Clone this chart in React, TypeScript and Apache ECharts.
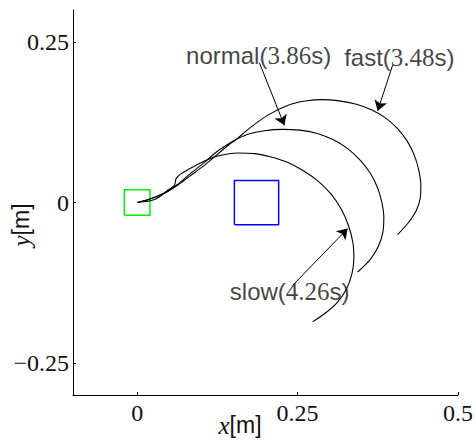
import React, { useEffect, useRef } from "react";
import * as echarts from "echarts";

const xTicks = [0, 0.25, 0.5];
const yTicks = [-0.25, 0, 0.25];

const fastPath: number[][] = [
  [0, 0], [0.0192, 0.005], [0.0425, 0.0143], [0.0628, 0.0268], [0.0815, 0.0408],
  [0.1048, 0.0579], [0.1251, 0.0751], [0.1438, 0.0907], [0.1547, 0.0984],
  [0.1749, 0.1156], [0.203, 0.1358], [0.2372, 0.1522], [0.2621, 0.1581],
  [0.2886, 0.1603], [0.3151, 0.1584], [0.3416, 0.153], [0.365, 0.1444],
  [0.3868, 0.1319], [0.4055, 0.1156], [0.4211, 0.0953], [0.432, 0.0735],
  [0.4389, 0.0502], [0.4421, 0.0268], [0.4413, 0.0081], [0.4351, -0.0121],
  [0.4226, -0.0316], [0.4059, -0.05],
];

const normalPath: number[][] = [
  [0, 0], [0.0192, 0.0055], [0.0425, 0.015], [0.0628, 0.028], [0.0815, 0.0439],
  [0.1048, 0.0626], [0.1251, 0.0798], [0.1438, 0.0922], [0.1547, 0.0984],
  [0.1749, 0.107], [0.1983, 0.1117], [0.2263, 0.114], [0.2528, 0.1128],
  [0.2793, 0.1078], [0.3042, 0.0984], [0.3276, 0.0844], [0.3478, 0.0657],
  [0.3634, 0.0455], [0.3743, 0.0237], [0.3813, 0.0003], [0.3844, -0.0231],
  [0.3829, -0.0464], [0.3759, -0.0682], [0.3634, -0.0885], [0.3436, -0.1083],
];

const slowPath: number[][] = [
  [0, 0], [0.027, 0.0045], [0.0477, 0.019], [0.058, 0.0268], [0.0607, 0.0372],
  [0.0685, 0.045], [0.0866, 0.0553], [0.1048, 0.0646], [0.1255, 0.0724],
  [0.1567, 0.0771], [0.1827, 0.0762], [0.2087, 0.0709], [0.2341, 0.0626],
  [0.259, 0.0494], [0.2824, 0.033], [0.3026, 0.0128], [0.3182, -0.0106],
  [0.3291, -0.0355], [0.3361, -0.062], [0.3377, -0.0869], [0.3346, -0.1118],
  [0.326, -0.1352], [0.312, -0.1555], [0.2949, -0.171], [0.2735, -0.1861],
];

const startRegion = { cx: 0, cy: 0, half: 0.02 };
const goalRegion = { cx: 0.186, cy: -0.0003, half: 0.0345 };

const annotations = [
  { name: "normal", time: "3.86", label: [0.1893, 0.229], from: [0.1904, 0.218], to: [0.2294, 0.1203] },
  { name: "fast", time: "3.48", label: [0.4086, 0.2266], from: [0.398, 0.2137], to: [0.3748, 0.143] },
  { name: "slow", time: "4.26", label: [0.2377, -0.1394], from: [0.2424, -0.129], to: [0.328, -0.0407] },
];

function squarePoly(r: { cx: number; cy: number; half: number }) {
  const { cx, cy, half } = r;
  return [
    [cx - half, cy - half], [cx + half, cy - half], [cx + half, cy + half],
    [cx - half, cy + half], [cx - half, cy - half],
  ];
}

const SERIF = "'Liberation Serif', 'Times New Roman', serif";
const SANS = "'Liberation Sans', Arial, sans-serif";

function fmtTick(v: number) {
  const s = String(Math.abs(v));
  return v < 0 ? "\u2212" + s : s;
}

export default function App() {
  const ref = useRef<HTMLDivElement>(null);
  useEffect(() => {
    if (!ref.current) return;
    document.body.style.margin = "0";
    const chart = echarts.init(ref.current, undefined, { renderer: "svg" });
    const curve = (data: number[][]) => ({
      type: "line",
      data,
      smooth: 0.3,
      showSymbol: false,
      symbol: "none",
      lineStyle: { color: "#000", width: 1.1 },
      z: 3,
    });
    const richStyles = {
      s: { fontFamily: SANS, fontSize: 24, color: "#111" },
      n: { fontFamily: SERIF, fontSize: 25, color: "#111" },
    };
    chart.setOption({
      animation: false,
      grid: { left: 73, right: 17, top: 10, bottom: 49, containLabel: false },
      xAxis: {
        type: "value",
        min: -0.1,
        max: 0.5,
        axisLine: { show: true, onZero: false, lineStyle: { color: "#000", width: 1 } },
        axisTick: { show: true, inside: true, length: 3, customValues: xTicks, lineStyle: { color: "#000" } },
        axisLabel: {
          customValues: xTicks,
          formatter: (v: number) => fmtTick(v),
          fontFamily: SERIF,
          fontSize: 24,
          color: "#111",
          margin: 6,
        },
        splitLine: { show: false },
      },
      yAxis: {
        type: "value",
        min: -0.3,
        max: 0.3,
        axisLine: { show: true, onZero: false, lineStyle: { color: "#000", width: 1 } },
        axisTick: { show: true, inside: true, length: 3, customValues: yTicks, lineStyle: { color: "#000" } },
        axisLabel: {
          customValues: yTicks,
          formatter: (v: number) => fmtTick(v),
          fontFamily: SERIF,
          fontSize: 24,
          color: "#111",
          margin: 4,
        },
        splitLine: { show: false },
      },
      graphic: [
        {
          type: "text",
          x: 240,
          y: 425,
          style: {
            text: "{i|x}{s|[m]}",
            align: "center",
            verticalAlign: "middle",
            rich: {
              i: { fontFamily: SERIF, fontStyle: "italic", fontSize: 25, fill: "#111" },
              s: { fontFamily: SANS, fontSize: 23, fill: "#111" },
            },
          },
        },
        {
          type: "text",
          x: 21,
          y: 225,
          rotation: Math.PI / 2,
          style: {
            text: "{i|y}{s|[m]}",
            align: "center",
            verticalAlign: "middle",
            rich: {
              i: { fontFamily: SERIF, fontStyle: "italic", fontSize: 25, fill: "#111" },
              s: { fontFamily: SANS, fontSize: 23, fill: "#111" },
            },
          },
        },
      ],
      series: [
        {
          type: "line",
          data: squarePoly(startRegion),
          showSymbol: false,
          symbol: "none",
          lineStyle: { color: "#00f000", width: 1.5 },
          z: 2,
        },
        {
          type: "line",
          data: squarePoly(goalRegion),
          showSymbol: false,
          symbol: "none",
          lineStyle: { color: "#0000ff", width: 1.5 },
          z: 2,
        },
        curve(fastPath),
        curve(normalPath),
        curve(slowPath),
        {
          type: "lines",
          coordinateSystem: "cartesian2d",
          symbol: ["none", "arrow"],
          symbolSize: 10,
          lineStyle: { color: "#000", width: 1, opacity: 1 },
          data: annotations.map((a) => ({ coords: [a.from, a.to] })),
          z: 4,
        },
        {
          type: "scatter",
          symbolSize: 0,
          data: annotations.map((a) => ({
            value: a.label,
            label: {
              show: true,
              position: "inside",
              formatter: `{s|${a.name}(}{n|${a.time}}{s|s)}`,
              rich: richStyles,
            },
          })),
          z: 5,
        },
      ],
    });
    return () => chart.dispose();
  }, []);
  return <div ref={ref} style={{ width: 476, height: 444 }} />;
}
